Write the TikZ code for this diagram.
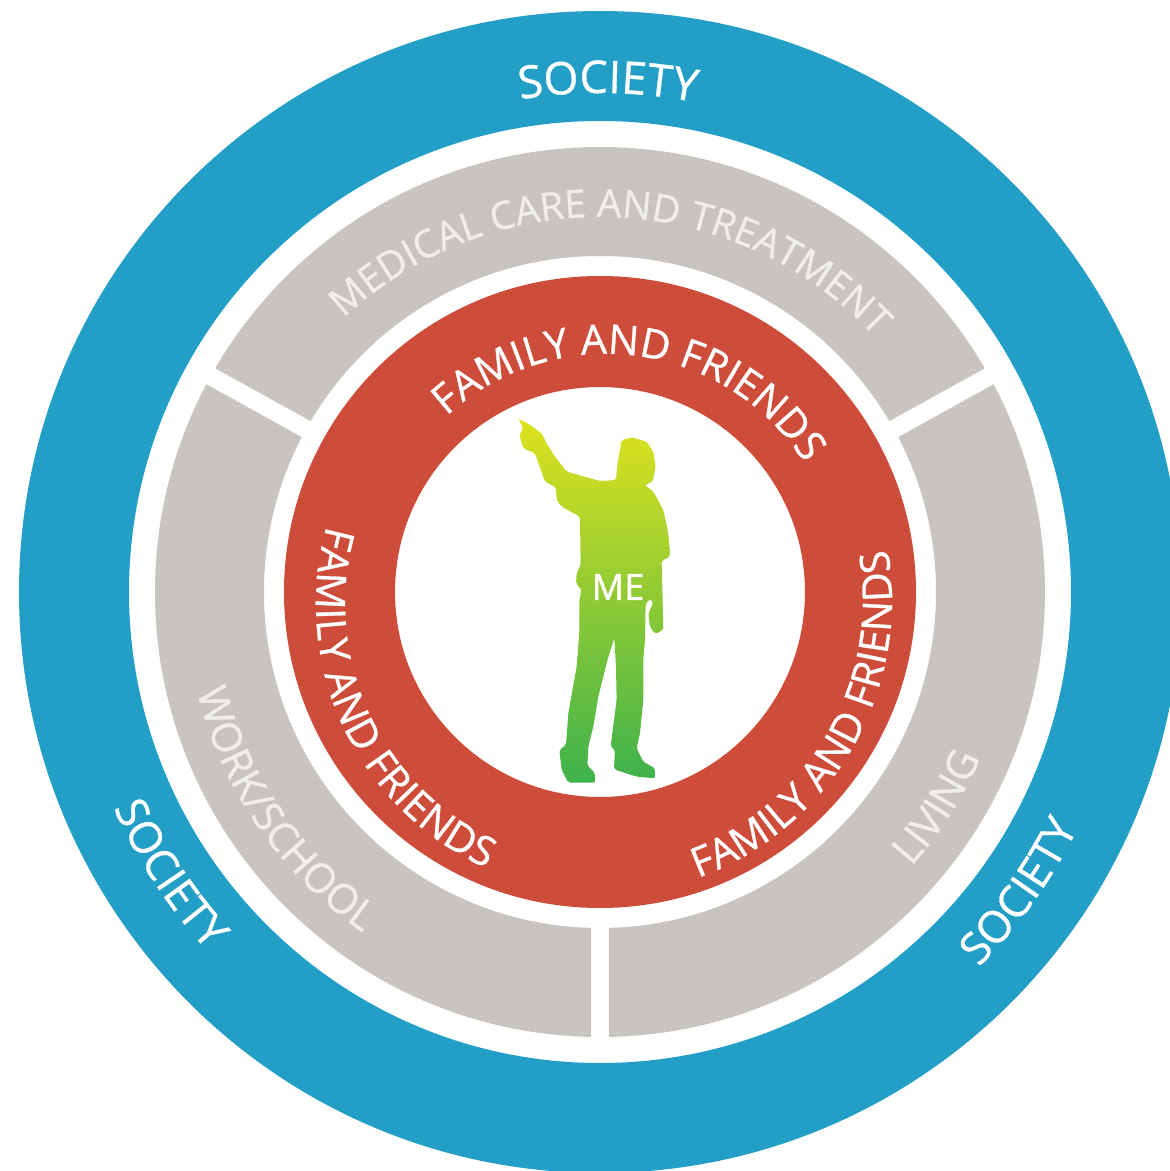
\documentclass[tikz,border=0pt]{standalone}
\usepackage{fontspec}
\newfontfamily\opensf{Open Sans}[FakeBold=0.7]
\newfontfamily\opensfb{Open Sans}[FakeBold=1.4]
\usetikzlibrary{decorations.text}
\definecolor{ringblue}{HTML}{239FC7}
\definecolor{ringgray}{HTML}{C8C5C0}
\definecolor{ringred}{HTML}{CD4C3A}
\definecolor{lightlabel}{HTML}{F0EEEB}
\definecolor{figtop}{RGB}{222,226,30}
\definecolor{figbot}{RGB}{62,178,76}
\newcommand{\cwtext}[5]{% radius, centre angle, size, colour, text (clockwise, tops outward)
  \path[decorate,decoration={text along path,text align=center,
    text={|\opensf\fontsize{#3}{#3}\selectfont\color{#4}|#5}}]
    ({#2+80}:#1pt) arc[start angle={#2+80},end angle={#2-80},radius=#1pt];}
\newcommand{\ccwtext}[5]{% radius, centre angle, size, colour, text (counter-clockwise, tops inward)
  \path[decorate,decoration={text along path,text align=center,
    text={|\opensf\fontsize{#3}{#3}\selectfont\color{#4}|#5}}]
    ({#2-80}:#1pt) arc[start angle={#2-80},end angle={#2+80},radius=#1pt];}
\tikzset{divider/.style={draw=white,line width=18pt}}
\begin{document}
\begin{tikzpicture}[x=1pt,y=1pt]
\useasboundingbox (-600,-579) rectangle (570,592);
\fill[white] (-600,-579) rectangle (570,592);
\begin{scope}
\clip (-600,-579) rectangle (570,592);
\fill[ringblue,even odd rule] (0,0) circle[radius=581pt] (0,0) circle[radius=471pt];
\end{scope}
\fill[ringgray,even odd rule] (0,0) circle[radius=445pt] (0,0) circle[radius=336pt];
\fill[ringred,even odd rule] (0,0) circle[radius=316pt] (0,0) circle[radius=205pt];
\coordinate (c1a) at (151:326pt); \coordinate (c1b) at (151:458pt);
\coordinate (c2a) at (29:326pt);  \coordinate (c2b) at (29:458pt);
\coordinate (c3a) at (270:326pt); \coordinate (c3b) at (270:458pt);
\draw[divider] (c1a) -- (c1b);
\draw[divider] (c2a) -- (c2b);
\draw[divider] (c3a) -- (c3b);
\cwtext{499}{89.1}{45}{white}{SOCIETY}
\ccwtext{532}{213.2}{44}{white}{SOCIETY}
\ccwtext{533}{-35.5}{44}{white}{SOCIETY}
\cwtext{375}{88}{38.7}{lightlabel}{MEDICAL CARE AND TREATMENT}
\begin{scope}[shift={(6,3)}]
\cwtext{235}{82.5}{41}{white}{FAMILY AND FRIENDS}
\end{scope}
\begin{scope}[shift={(6,-12)}]
\ccwtext{290}{205}{41}{white}{FAMILY AND FRIENDS}
\end{scope}
\begin{scope}[shift={(-4,-8)}]
\ccwtext{296}{-30}{41}{white}{FAMILY AND FRIENDS}
\end{scope}
\ccwtext{415}{214.5}{41}{lightlabel}{WORK/SCHOOL}
\ccwtext{415}{-32.5}{41}{lightlabel}{LIVING}
\begin{scope}[shift={(-120,192)},x=0.3333pt,y=-0.3333pt]
\shade[top color=figtop,bottom color=figbot,rounded corners=2pt]
 (115,57) -- (140,68) -- (185,100) -- (200,130) -- (225,170) -- (260,215) -- (320,232) -- (360,243)
 -- (408,240) -- (412,195) -- (425,120) -- (455,112) -- (500,125) -- (520,155) -- (527,200) -- (518,245)
 -- (495,255) -- (520,275) -- (550,330) -- (565,400) -- (570,470) -- (545,482) -- (548,600) -- (550,690)
 -- (525,702) -- (510,680) -- (505,640) -- (520,610) -- (512,597) -- (497,610) -- (495,720) -- (490,780)
 -- (490,900) -- (480,1000) -- (470,1045) -- (490,1085) -- (525,1105) -- (525,1135) -- (470,1130)
 -- (402,1108) -- (405,1050) -- (392,1040) -- (395,1015) -- (410,900) -- (408,800) -- (403,715)
 -- (385,770) -- (355,890) -- (340,980) -- (325,1040) -- (322,1095) -- (345,1120) -- (345,1148)
 -- (265,1148) -- (245,1110) -- (238,1050) -- (258,1035) -- (265,940) -- (290,800) -- (298,700)
 -- (298,600) -- (305,570) -- (288,550) -- (290,520) -- (302,495) -- (300,350) -- (245,320) -- (230,300)
 -- (228,262) -- (195,245) -- (165,160) -- (130,145) -- (118,105) -- (130,85) -- cycle;
\end{scope}
\node[text=white,font=\opensfb\fontsize{36}{36}\selectfont,inner sep=0pt] (me) at (18,5) {ME};
\end{tikzpicture}
\end{document}
